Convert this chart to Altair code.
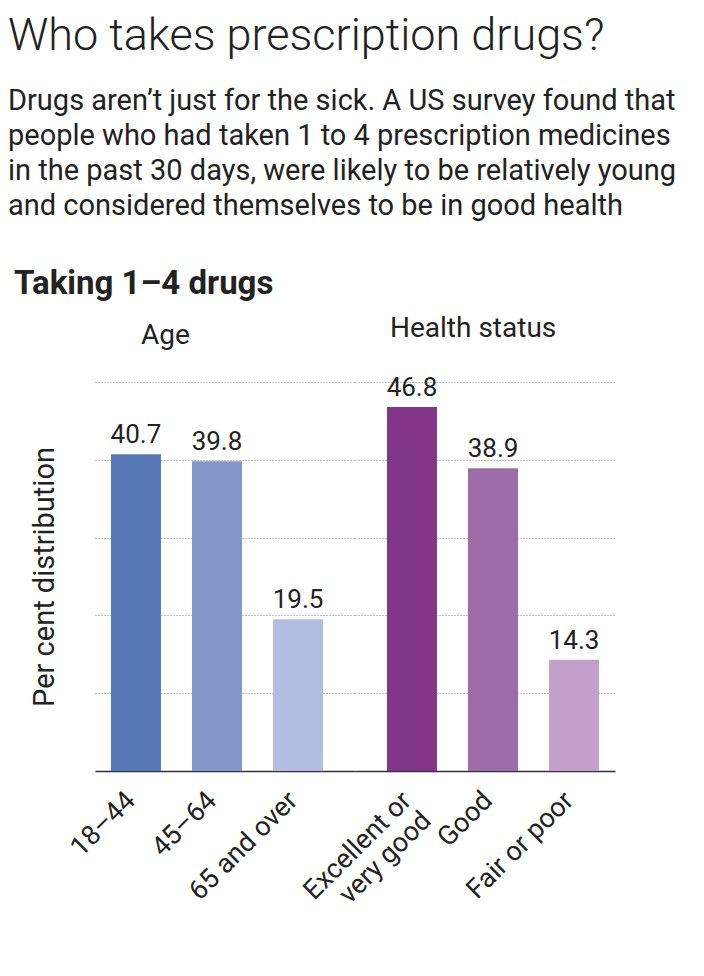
import altair as alt
import pandas as pd

FONT = "Roboto"

age_cats = ["18–44", "45–64", "65 and over"]
age_vals = [40.7, 39.8, 19.5]
age_colors = ["#5779b8", "#8497ca", "#b3bde1"]

health_cats = ["Excellent or\nvery good", "Good", "Fair or poor"]
health_vals = [46.8, 38.9, 14.3]
health_colors = ["#82368a", "#9c6da8", "#c1a1cc"]

grid_values = [10, 20, 30, 40, 50]

main_title = "Who takes prescription drugs?"
subtitle_lines = [
    "Drugs aren’t just for the sick. A US survey found that",
    "people who had taken 1 to 4 prescription medicines",
    "in the past 30 days, were likely to be relatively young",
    "and considered themselves to be in good health",
]


def panel(cats, vals, colors, title, dx, align, show_y):
    df = pd.DataFrame({"cat": cats, "value": vals, "color": colors})
    base = alt.Chart(df)
    x = alt.X(
        "cat:N",
        sort=cats,
        scale=alt.Scale(paddingInner=0.383, paddingOuter=0.296, align=align),
        axis=alt.Axis(
            title=None,
            labelAngle=315,
            labelFontSize=27,
            labelFont=FONT,
            labelColor="#222222",
            ticks=False,
            grid=False,
            domainColor="#333333",
            domainWidth=1.5,
            labelPadding=16,
            labelOffset=-14,
            labelExpr="split(datum.label, '\\n')",
            labelLineHeight=28,
        ),
    )
    y_axis = alt.Axis(
        values=grid_values,
        grid=True,
        gridDash=[1, 2],
        gridColor="#888888",
        labels=False,
        ticks=False,
        domain=False,
        title="Per cent distribution" if show_y else "",
        titleFont=FONT,
        titleFontSize=29,
        titleFontWeight="normal",
        titleColor="#222222",
        titlePadding=36,
    )
    y = alt.Y("value:Q", scale=alt.Scale(domain=[0, 50]), axis=y_axis)
    bars = base.mark_bar().encode(x=x, y=y, color=alt.Color("color:N", scale=None))
    text = base.mark_text(
        dy=-6, baseline="bottom", fontSize=26, font=FONT, color="#222222"
    ).encode(x=x, y=y, text=alt.Text("value:Q", format=".1f"))
    return (bars + text).properties(
        width=260,
        height=389,
        view=alt.ViewBackground(stroke="transparent", strokeWidth=0, strokeOpacity=0),
        title=alt.TitleParams(
            title,
            anchor="start",
            frame="group",
            dx=dx,
            font=FONT,
            fontSize=28,
            fontWeight="normal",
            color="#222222",
            offset=32,
        ),
    )


left = panel(age_cats, age_vals, age_colors, "Age", 46, 0.333, True)
right = panel(health_cats, health_vals, health_colors, "Health status", 35, 0.667, False)

inner = alt.hconcat(left, right, spacing=0, bounds="flush").properties(
    title=alt.TitleParams(
        "Taking 1–4 drugs",
        anchor="start",
        font=FONT,
        fontSize=33,
        fontWeight="bold",
        color="#222222",
        dx=-16,
        offset=14,
    )
)

chart = (
    alt.vconcat(inner)
    .properties(
        title=alt.TitleParams(
            main_title,
            subtitle=subtitle_lines,
            anchor="start",
            font=FONT,
            fontSize=45,
            fontWeight=300,
            color="#222222",
            subtitleFont=FONT,
            subtitleFontSize=29,
            subtitleColor="#222222",
            subtitleLineHeight=35,
            subtitlePadding=28,
            dx=-6,
            offset=47,
        )
    )
    .configure_view(stroke="transparent", strokeWidth=0, strokeOpacity=0)
    .configure(padding={"left": 0, "top": 5, "right": 0, "bottom": 0})
)

chart.save("out.html", embed_options={"renderer": "svg", "actions": False})
